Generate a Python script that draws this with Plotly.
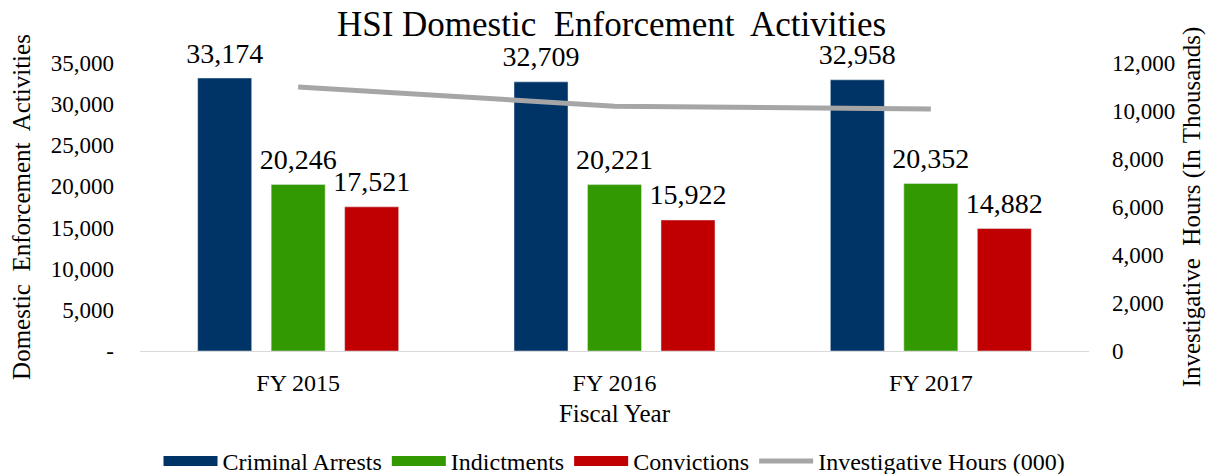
import plotly.graph_objects as go

years = ["FY 2015", "FY 2016", "FY 2017"]
criminal_arrests = [33174, 32709, 32958]
indictments = [20246, 20221, 20352]
convictions = [17521, 15922, 14882]
investigative_hours = [11000, 10200, 10080]

left_ticks = [0, 5000, 10000, 15000, 20000, 25000, 30000, 35000]
left_tick_text = ["-", "5,000", "10,000", "15,000", "20,000", "25,000", "30,000", "35,000"]
right_ticks = [0, 2000, 4000, 6000, 8000, 10000, 12000]

FONT = "Liberation Serif"

bar_series = [
    ("Criminal Arrests", criminal_arrests, "#003366"),
    ("Indictments", indictments, "#339900"),
    ("Convictions", convictions, "#C00000"),
]

fig = go.Figure()
for name, vals, color in bar_series:
    fig.add_trace(go.Bar(
        x=years, y=vals, name=name, marker_color=color,
        offsetgroup=name, alignmentgroup="a",
        legendgroup=name, showlegend=False,
    ))

# value labels, grouped like the bars
for name, vals, color in bar_series:
    fig.add_trace(go.Scatter(
        x=years, y=vals, mode="markers+text", text=[f"{v:,}" for v in vals],
        textposition="top center", textfont=dict(family=FONT, size=28, color="#000"),
        marker=dict(size=12, opacity=0), offsetgroup=name, alignmentgroup="a",
        cliponaxis=False, showlegend=False, hoverinfo="skip",
    ))

# legend entries drawn as wide colour swatches (as in the reference)
for name, vals, color in bar_series:
    fig.add_trace(go.Scatter(
        x=[None], y=[None], mode="lines", name=name,
        line=dict(color=color, width=13), legendgroup=name, showlegend=True,
    ))

fig.add_trace(go.Scatter(
    x=years, y=investigative_hours, name="Investigative Hours (000)",
    mode="lines", line=dict(color="#A6A6A6", width=5), yaxis="y2",
))

fig.update_layout(
    width=1207, height=466,
    paper_bgcolor="white", plot_bgcolor="white",
    font=dict(family=FONT, size=22, color="#000"),
    title=dict(text="HSI Domestic  Enforcement  Activities", x=0.5, xanchor="center",
               y=0.993, yanchor="top", font=dict(family=FONT, size=35, color="#000")),
    margin=dict(l=132, r=126, t=55, b=123, autoexpand=False),
    barmode="group", bargap=0.303, bargroupgap=0.265,
    scattermode="group", scattergap=0.303,
    xaxis=dict(showline=True, linecolor="#D9D9D9", linewidth=1, ticks="",
               automargin=False, ticklabelstandoff=10,
               title=dict(text="Fiscal Year", font=dict(family=FONT, size=25), standoff=9),
               tickfont=dict(family=FONT, size=24)),
    yaxis=dict(range=[0, 35000], tickvals=left_ticks, ticktext=left_tick_text,
               showgrid=False, zeroline=False, showline=False, automargin=False,
               ticklabelstandoff=25,
               title=dict(text="Domestic  Enforcement  Activities", font=dict(family=FONT, size=25), standoff=17),
               tickfont=dict(family=FONT, size=23)),
    yaxis2=dict(range=[0, 12000], tickvals=right_ticks, tickformat=",", overlaying="y",
                side="right", showgrid=False, zeroline=False, showline=False, automargin=False,
                ticklabelstandoff=22,
                title=dict(text="Investigative  Hours (In Thousands)", font=dict(family=FONT, size=25), standoff=8),
                tickfont=dict(family=FONT, size=23)),
    legend=dict(orientation="h", x=0.5, xanchor="center", y=-0.305, yanchor="top",
                font=dict(family=FONT, size=24), itemwidth=54, traceorder="normal",
                tracegroupgap=0),
    showlegend=True,
)

fig.write_html("out.html")
